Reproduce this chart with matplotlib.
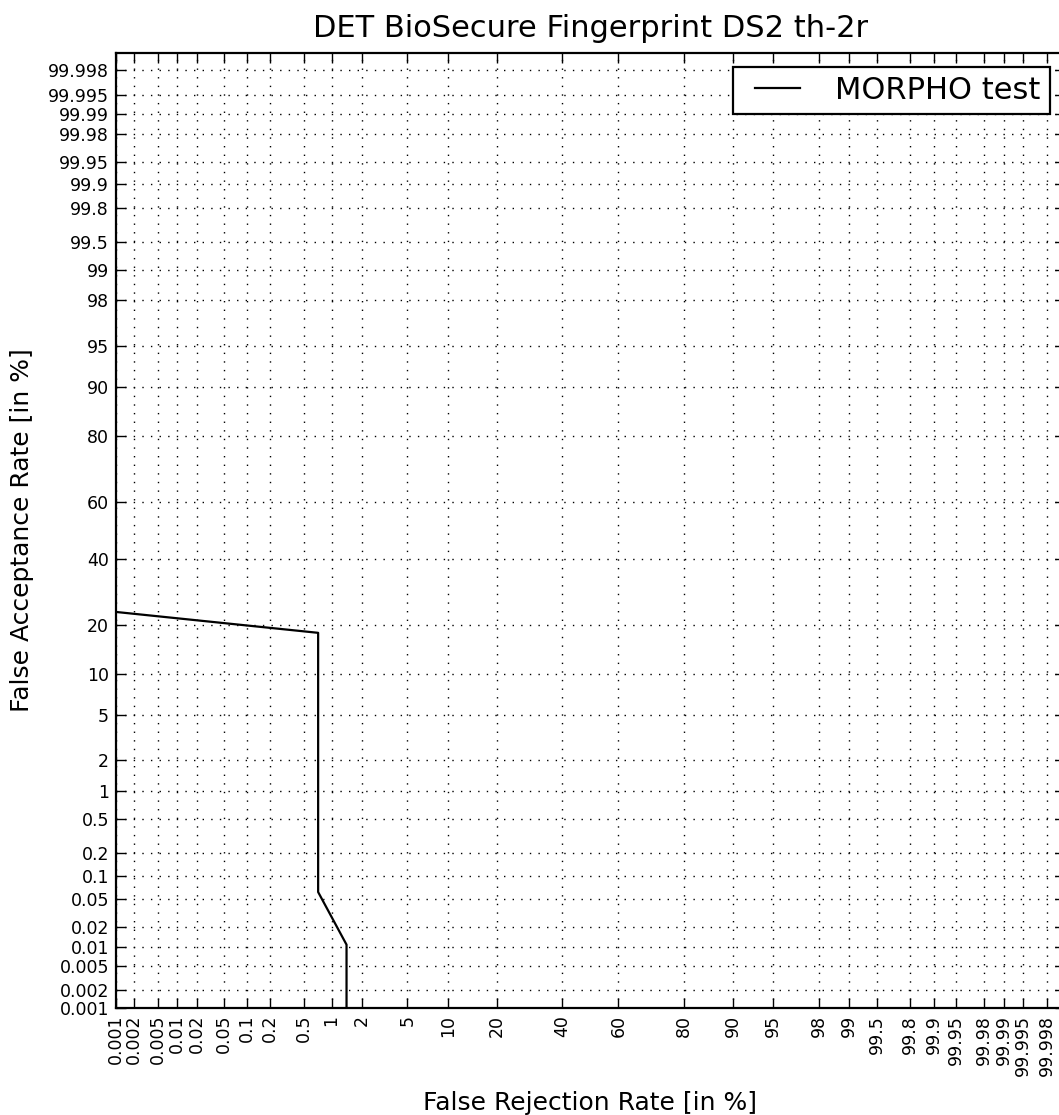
import numpy as np
import matplotlib
matplotlib.use("Agg")
import matplotlib.pyplot as plt
from matplotlib.legend_handler import HandlerLine2D
from statistics import NormalDist

# DET tick values (percent) and curve points (FRR %, FAR %)
tick_pct = [0.001, 0.002, 0.005, 0.01, 0.02, 0.05, 0.1, 0.2, 0.5, 1, 2, 5, 10,
            20, 40, 60, 80, 90, 95, 98, 99, 99.5, 99.8, 99.9, 99.95, 99.98,
            99.99, 99.995, 99.998]
tick_labels = ["0.001", "0.002", "0.005", "0.01", "0.02", "0.05", "0.1", "0.2",
               "0.5", "1", "2", "5", "10", "20", "40", "60", "80", "90", "95",
               "98", "99", "99.5", "99.8", "99.9", "99.95", "99.98", "99.99",
               "99.995", "99.998"]
frr = [0.001, 0.72, 0.72, 1.42, 1.42]
far = [23.3, 18.0, 0.062, 0.0108, 0.001]

nd = NormalDist()


def ppndf(pct):
    p = np.clip(np.asarray(pct, dtype=float) / 100.0, 1e-7, 1 - 1e-7)
    return np.array([nd.inv_cdf(v) for v in np.atleast_1d(p)])


lim = nd.inv_cdf(0.99999)

W, H = 1059, 1115
fig = plt.figure(figsize=(W / 100, H / 100), dpi=100)
left, right, top, bottom = 116, 1064.5, 52.6, 1008
ax = fig.add_axes([left / W, 1 - bottom / H, (right - left) / W, (bottom - top) / H])

ax.plot(ppndf(frr), ppndf(far), color="black", lw=1.6, label="MORPHO test")

ax.set_xlim(-lim, lim)
ax.set_ylim(-lim, lim)
ticks = ppndf(tick_pct)
ax.set_xticks(ticks)
ax.set_xticklabels(tick_labels, rotation=90)
ax.set_yticks(ticks)
ax.set_yticklabels(tick_labels)
ax.tick_params(direction="in", length=7, width=1, labelsize=12.5,
               top=True, right=True, pad=5)
ax.grid(True, color="black", linestyle=(0, (1, 5.2)), linewidth=1)
for s in ax.spines.values():
    s.set_linewidth(1.6)

ax.set_title("DET BioSecure Fingerprint DS2 th-2r", fontsize=22, pad=11)
ax.set_xlabel("False Rejection Rate [in %]", fontsize=18, labelpad=11)
ax.set_ylabel("False Acceptance Rate [in %]", fontsize=18, labelpad=10)

leg = ax.legend(loc="upper right", bbox_to_anchor=(1050 / W, 1 - 67 / H),
                bbox_transform=fig.transFigure, fontsize=22, fancybox=False,
                framealpha=1, borderaxespad=0, handlelength=1.9,
                handletextpad=1.15, borderpad=0.3,
                handler_map={matplotlib.lines.Line2D: HandlerLine2D(xpad=0.43)})
leg.get_frame().set_edgecolor("black")
leg.get_frame().set_linewidth(1.6)

fig.savefig("out.png", dpi=100)
